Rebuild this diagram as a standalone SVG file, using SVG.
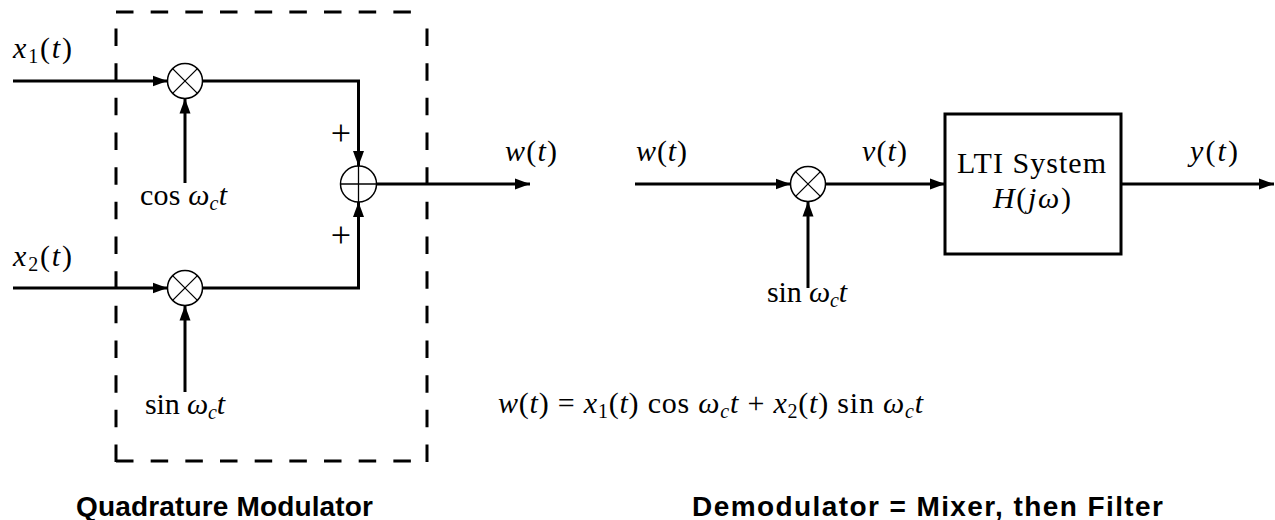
<svg xmlns="http://www.w3.org/2000/svg" width="1275" height="520" viewBox="0 0 1275 520">
<style>
.bg{fill:#fff}
.w{fill:none;stroke:#000;stroke-width:3;stroke-linejoin:miter}
.d{fill:none;stroke:#000;stroke-width:3;stroke-dasharray:17.5 17.17}
.c{fill:#fff;stroke:#000;stroke-width:1.5}
.t{stroke:#000;stroke-width:1.3}
.m{font-family:"Liberation Serif","DejaVu Serif",serif;font-size:30px;fill:#000}
.i{font-style:italic}
.s{font-size:20px}
.p{font-size:36px}
.b{font-family:"Liberation Sans","DejaVu Sans",sans-serif;font-weight:bold;font-size:28px;fill:#000}
</style>
<defs>
<marker id="ar" markerUnits="userSpaceOnUse" markerWidth="16" markerHeight="12" refX="15" refY="5.5" orient="auto" viewBox="0 0 16 11">
<path d="M0,0 L15,5.5 L0,11 z" fill="#000"/>
</marker>
</defs>
<rect class="bg" width="1275" height="520"/>
<g id="modulator-box">
<line class="d" x1="116" y1="12" x2="428" y2="12"/>
<line class="d" x1="427" y1="462" x2="427" y2="12"/>
<line class="d" x1="116" y1="462" x2="116" y2="12"/>
<line class="d" x1="116" y1="461" x2="428" y2="461"/>
</g>
<g id="connectors">
<line class="w" x1="13" y1="81" x2="167.5" y2="81" marker-end="url(#ar)"/>
<line class="w" x1="185" y1="183" x2="185" y2="98.5" marker-end="url(#ar)"/>
<polyline class="w" points="202.5,81 358.5,81 358.5,166" marker-end="url(#ar)"/>
<line class="w" x1="13" y1="288" x2="167.5" y2="288" marker-end="url(#ar)"/>
<line class="w" x1="185" y1="392" x2="185" y2="305.5" marker-end="url(#ar)"/>
<polyline class="w" points="202.5,288 358.5,288 358.5,202" marker-end="url(#ar)"/>
<line class="w" x1="376.5" y1="184" x2="530" y2="184" marker-end="url(#ar)"/>
<line class="w" x1="635" y1="184" x2="790.5" y2="184" marker-end="url(#ar)"/>
<line class="w" x1="808" y1="288" x2="808" y2="201.5" marker-end="url(#ar)"/>
<line class="w" x1="825.5" y1="184" x2="945" y2="184" marker-end="url(#ar)"/>
<line class="w" x1="1121" y1="184" x2="1274" y2="184" marker-end="url(#ar)"/>
</g>
<g id="mult1">
<circle class="c" cx="185" cy="81" r="17.5"/>
<line class="t" x1="172.6" y1="68.6" x2="197.4" y2="93.4"/>
<line class="t" x1="197.4" y1="68.6" x2="172.6" y2="93.4"/>
</g>
<g id="mult2">
<circle class="c" cx="185" cy="288" r="17.5"/>
<line class="t" x1="172.6" y1="275.6" x2="197.4" y2="300.4"/>
<line class="t" x1="197.4" y1="275.6" x2="172.6" y2="300.4"/>
</g>
<g id="sum">
<circle class="c" cx="358.5" cy="184" r="18"/>
<line class="t" x1="340.5" y1="184" x2="376.5" y2="184"/>
<line class="t" x1="358.5" y1="166" x2="358.5" y2="202"/>
</g>
<g id="mult3">
<circle class="c" cx="808" cy="184" r="17.5"/>
<line class="t" x1="795.6" y1="171.6" x2="820.4" y2="196.4"/>
<line class="t" x1="820.4" y1="171.6" x2="795.6" y2="196.4"/>
</g>
<g id="lti">
<rect class="w" x="945" y="114" width="176" height="140"/>
<text class="m" x="957" y="173" textLength="149" lengthAdjust="spacing">LTI System</text>
<text class="m" x="993" y="208" textLength="78" lengthAdjust="spacing"><tspan class="i">H</tspan>(<tspan class="i">jω</tspan>)</text>
</g>
<g id="labels">
<text class="m" x="13" y="58" textLength="59" lengthAdjust="spacing"><tspan class="i">x</tspan><tspan class="s" dy="5">1</tspan><tspan dy="-5">(</tspan><tspan class="i">t</tspan>)</text>
<text class="m" x="13" y="266" textLength="59" lengthAdjust="spacing"><tspan class="i">x</tspan><tspan class="s" dy="5">2</tspan><tspan dy="-5">(</tspan><tspan class="i">t</tspan>)</text>
<text class="m" x="140" y="205" textLength="87" lengthAdjust="spacing">cos <tspan class="i">ω</tspan><tspan class="s i" dy="5">c</tspan><tspan class="i" dy="-5">t</tspan></text>
<text class="m" x="145" y="414" textLength="80" lengthAdjust="spacing">sin <tspan class="i">ω</tspan><tspan class="s i" dy="5">c</tspan><tspan class="i" dy="-5">t</tspan></text>
<text class="m p" x="341" y="145" text-anchor="middle">+</text>
<text class="m p" x="341" y="247" text-anchor="middle">+</text>
<text class="m" x="505" y="161" textLength="52" lengthAdjust="spacing"><tspan class="i">w</tspan>(<tspan class="i">t</tspan>)</text>
<text class="m" x="636" y="161" textLength="51" lengthAdjust="spacing"><tspan class="i">w</tspan>(<tspan class="i">t</tspan>)</text>
<text class="m" x="862" y="161" textLength="45" lengthAdjust="spacing"><tspan class="i">v</tspan>(<tspan class="i">t</tspan>)</text>
<text class="m" x="1190" y="161" textLength="48" lengthAdjust="spacing"><tspan class="i">y</tspan>(<tspan class="i">t</tspan>)</text>
<text class="m" x="767" y="302" textLength="80" lengthAdjust="spacing">sin <tspan class="i">ω</tspan><tspan class="s i" dy="5">c</tspan><tspan class="i" dy="-5">t</tspan></text>
<text class="m" x="498" y="413" textLength="425" lengthAdjust="spacing"><tspan class="i">w</tspan>(<tspan class="i">t</tspan>) = <tspan class="i">x</tspan><tspan class="s" dy="5">1</tspan><tspan dy="-5">(</tspan><tspan class="i">t</tspan>) cos <tspan class="i">ω</tspan><tspan class="s i" dy="5">c</tspan><tspan class="i" dy="-5">t</tspan> + <tspan class="i">x</tspan><tspan class="s" dy="5">2</tspan><tspan dy="-5">(</tspan><tspan class="i">t</tspan>) sin <tspan class="i">ω</tspan><tspan class="s i" dy="5">c</tspan><tspan class="i" dy="-5">t</tspan></text>
<text class="b" x="76" y="516" textLength="297" lengthAdjust="spacing">Quadrature Modulator</text>
<text class="b" x="692" y="516" textLength="471" lengthAdjust="spacing">Demodulator = Mixer, then Filter</text>
</g>
</svg>
